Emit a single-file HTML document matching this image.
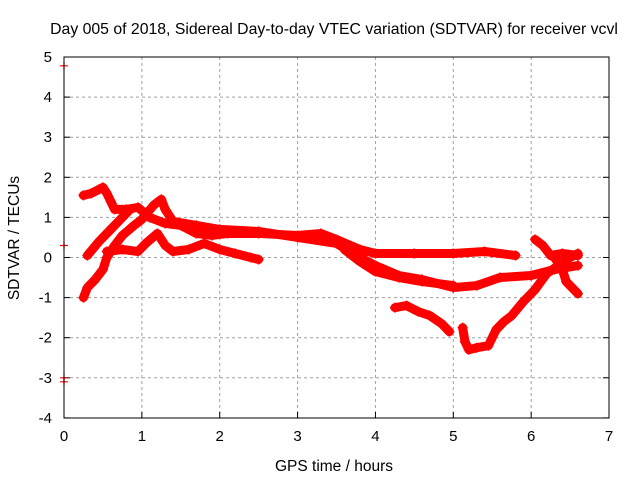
<!DOCTYPE html>
<html><head><meta charset="utf-8"><style>
body{margin:0;background:#fff}
svg{display:block;font-family:"Liberation Sans",sans-serif}
</style></head><body>
<svg id="chart" width="640" height="480">
<rect width="640" height="480" fill="#fff"/>
<text x="334" y="34" font-size="15.8" text-anchor="middle">Day 005 of 2018, Sidereal Day-to-day VTEC variation (SDTVAR) for receiver vcvl</text>
<text x="334" y="471" font-size="15.5" text-anchor="middle">GPS time / hours</text>
<text transform="translate(19,238) rotate(-90)" font-size="15.5" text-anchor="middle">SDTVAR / TECUs</text>
<g id="grid"></g><g id="ticks"></g><g id="marks"></g>
<rect x="64" y="57" width="545" height="361" fill="none" stroke="#000" stroke-width="1"/>
</svg>
<script>
const xTicks=[0,1,2,3,4,5,6,7];
const yTicks=[5,4,3,2,1,0,-1,-2,-3,-4];
const seriesA=[[0.25,1.55],[0.35,1.6],[0.45,1.7],[0.5,1.75],[0.55,1.6],[0.6,1.4],[0.65,1.2],[0.8,1.2],[0.95,1.25],[1.1,1.0],[1.3,0.85],[1.5,0.8],[1.7,0.6],[1.9,0.55],[2.1,0.6],[2.5,0.6],[3.0,0.55],[3.3,0.6],[3.5,0.45],[3.8,0.2],[4.0,0.1],[4.5,0.1],[5.0,0.1],[5.4,0.15],[5.8,0.05]];
const seriesB=[[0.25,-1.0],[0.3,-0.75],[0.4,-0.55],[0.5,-0.3],[0.55,0.0],[0.65,0.3],[0.75,0.55],[0.9,0.8],[1.0,0.95],[1.15,1.3],[1.25,1.45],[1.3,1.2],[1.4,0.9],[1.7,0.8],[2.0,0.7],[2.5,0.65],[3.0,0.5],[3.5,0.35],[3.8,0.0],[4.0,-0.2],[4.3,-0.45],[4.6,-0.55],[5.0,-0.75],[5.3,-0.7],[5.6,-0.5],[6.0,-0.45],[6.3,-0.3],[6.6,-0.2]];
const seriesC=[[0.3,0.05],[0.45,0.4],[0.6,0.7],[0.75,1.0],[0.85,1.2]];
const seriesD=[[0.55,0.15],[0.75,0.2],[0.95,0.15],[1.05,0.35],[1.2,0.6],[1.3,0.3],[1.4,0.15],[1.6,0.2],[1.8,0.35],[2.0,0.2],[2.2,0.1],[2.4,0.0],[2.5,-0.05]];
const seriesE=[[4.25,-1.25],[4.4,-1.2],[4.55,-1.35],[4.7,-1.45],[4.85,-1.65],[4.95,-1.85]];
const seriesF=[[5.12,-1.75],[5.15,-2.1],[5.2,-2.3],[5.3,-2.25],[5.45,-2.2],[5.55,-1.8],[5.65,-1.6],[5.75,-1.45],[5.9,-1.1],[6.05,-0.8],[6.2,-0.4],[6.35,-0.2],[6.5,0.0],[6.6,0.1]];
const seriesG=[[6.05,0.45],[6.15,0.3],[6.25,0.05],[6.4,0.1],[6.6,0.05]];
const seriesH=[[3.6,0.2],[3.8,-0.1],[4.0,-0.35],[4.3,-0.5],[4.6,-0.6],[5.0,-0.7]];
const seriesI=[[6.3,0.0],[6.4,-0.3],[6.45,-0.6],[6.55,-0.8],[6.6,-0.9]];
const singles=[[0.0,4.78],[0.0,0.3],[0.0,-3.0],[0.0,-3.1]];
const allSeries=[seriesA,seriesB,seriesC,seriesD,seriesE,seriesF,seriesG,seriesH,seriesI];
const NS="http://www.w3.org/2000/svg";
const X=h=>64+h*77.86, Y=v=>257.5-v*40.1;
const grid=document.getElementById('grid'),ticks=document.getElementById('ticks'),marks=document.getElementById('marks');
function mk(t,a,p){const e=document.createElementNS(NS,t);for(const k in a)e.setAttribute(k,a[k]);p.appendChild(e);return e;}
xTicks.forEach(t=>{
 if(t>0&&t<7){const g=mk('line',{x1:X(t),x2:X(t),y1:57,y2:418,stroke:'#a0a0a0','stroke-dasharray':'3,3'},grid);
 
 }
 mk('line',{x1:X(t),x2:X(t),y1:418,y2:412,stroke:'#000'},ticks);
 const l=mk('text',{x:X(t),y:441,'font-size':15,'text-anchor':'middle'},ticks);l.textContent=t;
 
 
});
yTicks.forEach(t=>{
 if(t<5&&t>-4){const g=mk('line',{x1:64,x2:609,y1:Y(t),y2:Y(t),stroke:'#a0a0a0','stroke-dasharray':'3,3'},grid);
 
 }
 mk('line',{x1:64,x2:70,y1:Y(t),y2:Y(t),stroke:'#000'},ticks);
 mk('line',{x1:609,x2:603,y1:Y(t),y2:Y(t),stroke:'#000'},ticks);
 const l=mk('text',{x:52,y:Y(t)+5,'font-size':15,'text-anchor':'end'},ticks);l.textContent=t;
 
 
});
allSeries.forEach((s,i)=>{
 const pl=mk('polyline',{points:s.map(p=>X(p[0])+','+Y(p[1])).join(' '),fill:'none',stroke:'#f00','stroke-width':9,'stroke-linejoin':'round','stroke-linecap':'round'},marks);
 
 
 s.forEach(p=>{const m=mk('path',{d:`M${X(p[0])-5},${Y(p[1])}h10M${X(p[0])},${Y(p[1])-5}v10`,stroke:'#f00','stroke-width':1.5},marks);
 
 });
});
singles.forEach(p=>{const m=mk('path',{d:`M${X(p[0])-4},${Y(p[1])}h8M${X(p[0])},${Y(p[1])-4}v8`,stroke:'#f00','stroke-width':1.2},marks);
 
 });
</script>
</body></html>
